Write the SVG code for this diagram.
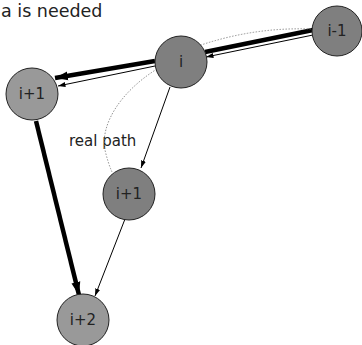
<svg xmlns="http://www.w3.org/2000/svg" width="362" height="345" viewBox="0 0 362 345">
<style>
text{font-family:"DejaVu Sans","Liberation Sans",sans-serif;fill:#222;}
.lbl{font-size:15px;text-anchor:middle;dominant-baseline:central;}
.dark{fill:#7f7f7f;stroke:#222;stroke-width:1;}
.light{fill:#999;stroke:#222;stroke-width:1;}
.thick{stroke:#000;stroke-width:4.5;fill:none;}
.thin{stroke:#000;stroke-width:1;fill:none;}
.dot{stroke:#777;stroke-width:0.8;stroke-dasharray:1.5 1.5;fill:none;}
</style>
<defs>
<marker id="big" markerUnits="userSpaceOnUse" markerWidth="14" markerHeight="10" refX="13" refY="5" orient="auto">
<path d="M0,0.5 L13,5 L0,9.5 z" fill="#000"/>
</marker>
<marker id="small" markerUnits="userSpaceOnUse" markerWidth="8" markerHeight="6" refX="7.5" refY="3" orient="auto">
<path d="M0,0.5 L7.5,3 L0,5.5 z" fill="#000"/>
</marker>
</defs>
<text x="1" y="17" style="font-size:17.5px">a is needed</text>
<text x="69" y="146" style="font-size:15px">real path</text>
<g id="connectors">
<line class="thick" x1="313" y1="30" x2="205" y2="52"/>
<line class="thick" x1="155" y1="61" x2="55" y2="78" marker-end="url(#big)"/>
<line class="thick" x1="36" y1="121" x2="79" y2="295" marker-end="url(#big)"/>
<line class="thin" x1="313" y1="35" x2="206" y2="57" marker-end="url(#small)"/>
<line class="thin" x1="155" y1="66" x2="58" y2="86" marker-end="url(#small)"/>
<line class="thin" x1="170" y1="87" x2="141" y2="168" marker-end="url(#small)"/>
<line class="thin" x1="125" y1="219" x2="95" y2="296" marker-end="url(#small)"/>
<path class="dot" d="M311,29 Q255,27 201,45"/>
<path class="dot" d="M157,69 C120,92 100,125 105,150 Q108,163 112,172"/>
</g>
<g id="node-i"><circle class="dark" cx="181" cy="62" r="26"/><text class="lbl" x="181" y="62">i</text></g>
<g id="node-im1"><circle class="dark" cx="337" cy="31" r="25"/><text class="lbl" x="337" y="31">i-1</text></g>
<g id="node-ip1-left"><circle class="light" cx="32" cy="94" r="26"/><text class="lbl" x="32" y="94">i+1</text></g>
<g id="node-ip1-mid"><circle class="dark" cx="129" cy="194" r="26"/><text class="lbl" x="129" y="194">i+1</text></g>
<g id="node-ip2"><circle class="light" cx="83" cy="320" r="26"/><text class="lbl" x="83" y="320">i+2</text></g>
</svg>
